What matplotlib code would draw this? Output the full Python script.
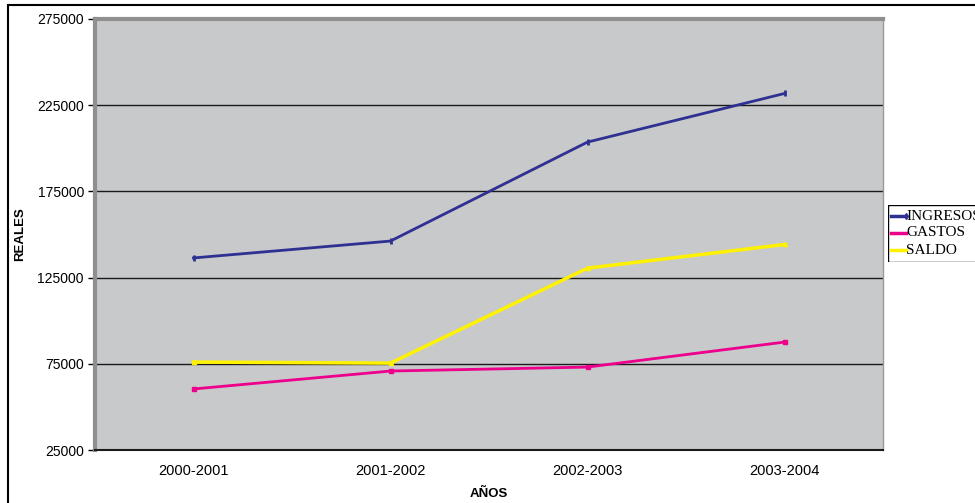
import matplotlib.pyplot as plt
from matplotlib.patches import Rectangle
from matplotlib.lines import Line2D

# Data
years = ['2000-2001', '2001-2002', '2002-2003', '2003-2004']
ingresos = [136400, 146200, 203600, 231800]
gastos = [60400, 70800, 73100, 87600]
saldo = [76000, 75400, 130500, 144200]
yticks = [25000, 75000, 125000, 175000, 225000, 275000]

fig = plt.figure(figsize=(9.75, 5.03), dpi=100)
W, H = 975, 503
ax = fig.add_axes([95 / W, 1 - 450 / H, (883 - 95) / W, (450 - 19) / H])
ax.set_facecolor('#C8C9CB')

x = range(len(years))
ax.plot(x, ingresos, color='#2E3192', lw=2, marker='|', ms=4, mew=2, label='INGRESOS')
ax.plot(x, gastos, color='#EC008C', lw=2, marker='s', ms=2.5, label='GASTOS')
ax.plot(x, saldo, color='#FFF200', lw=2.5, marker='^', ms=3, label='SALDO')

ax.set_xlim(-0.5, 3.5)
ax.set_ylim(25000, 275000)
ax.set_yticks(yticks)
ax.set_yticklabels([str(v) for v in yticks], family='Liberation Sans', fontsize=10)
ax.set_xticks(list(x))
ax.set_xticklabels(years, family='Liberation Sans', fontsize=10.5)
ax.tick_params(axis='x', length=0, pad=10)
ax.tick_params(axis='y', length=5, width=1, direction='out', pad=3)
ax.yaxis.grid(True, color='#1a1a1a', lw=1)
ax.set_axisbelow(True)

for side in ('left', 'top'):
    ax.spines[side].set_color('#8F8F8F')
    ax.spines[side].set_linewidth(3)
ax.spines['right'].set_color('#9A9A9A')
ax.spines['right'].set_linewidth(1)
ax.spines['bottom'].set_color('#1a1a1a')
ax.spines['bottom'].set_linewidth(1.5)

ax.set_xlabel('AÑOS', family='Liberation Sans', fontsize=9.5, fontweight='bold', labelpad=7)
ax.set_ylabel('REALES', family='Liberation Sans', fontsize=9.5, fontweight='bold', labelpad=8)

# legend drawn by hand so it can run off the right edge like the original
lg = fig.add_axes([888 / W, 1 - 262 / H, 120 / W, 57 / H])
lg.set_xlim(0, 120)
lg.set_ylim(57, 0)
lg.axis('off')
lg.add_patch(Rectangle((0, 0), 119, 57, fill=False, ec='black', lw=1))
entries = [('INGRESOS', '#2E3192', 'd'), ('GASTOS', '#EC008C', None), ('SALDO', '#FFF200', None)]
for i, (name, col, mk) in enumerate(entries):
    yy = 11 + i * 17
    lg.add_line(Line2D([3, 18], [yy, yy], color=col, lw=2.5, marker=mk, ms=3,
                       markevery=[1] if mk else None))
    lg.text(18, yy, name, family='Liberation Serif', fontsize=11, va='center')

# outer chart frame
fig.add_artist(Rectangle((8 / W, -0.05), 1.1, 1 - 5 / H + 0.05, transform=fig.transFigure,
                         fill=False, ec='black', lw=1.5))

fig.savefig('out.png', dpi=100)
